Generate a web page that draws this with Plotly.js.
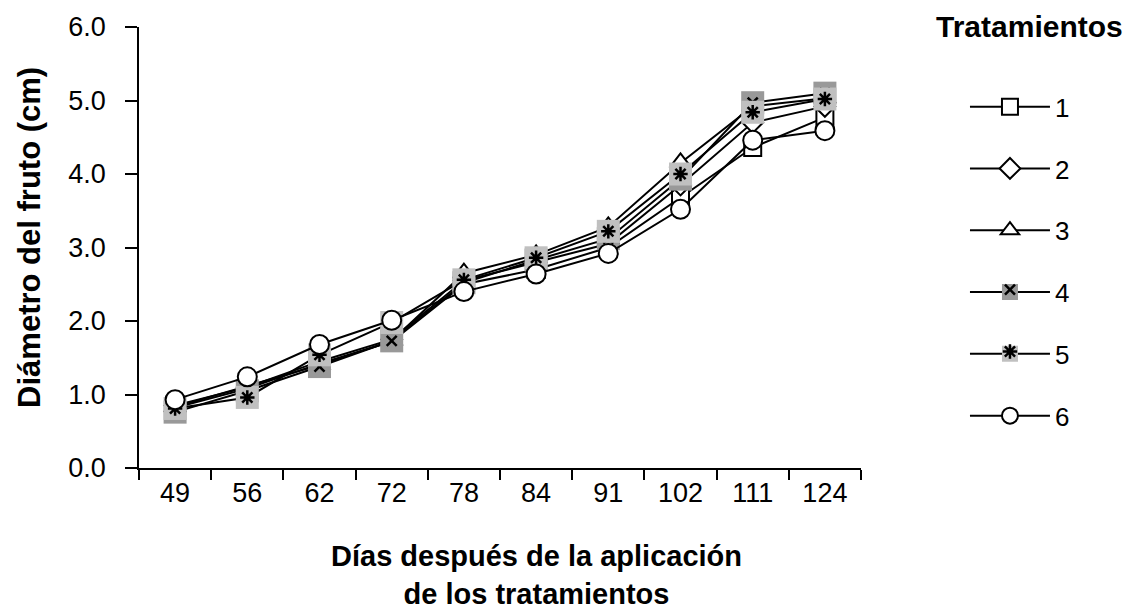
<!DOCTYPE html>
<html>
<head>
<meta charset="utf-8">
<script src="https://cdn.plot.ly/plotly-3.0.1.min.js"></script>
<style>
  html, body { margin: 0; padding: 0; background: #ffffff; }
  #chart { width: 1140px; height: 614px; }
</style>
</head>
<body>
<div id="chart"></div>
<script>
// Days after treatment application (category axis)
const days = ['49', '56', '62', '72', '78', '84', '91', '102', '111', '124'];

// Fruit diameter (cm) per treatment
const t1 = [0.82, 1.08, 1.42, 1.72, 2.50, 2.70, 3.00, 3.68, 4.36, 4.77];
const t2 = [0.85, 1.10, 1.45, 1.75, 2.55, 2.80, 3.05, 3.85, 4.70, 4.92];
const t3 = [0.83, 1.12, 1.40, 1.73, 2.65, 2.90, 3.28, 4.15, 4.92, 5.03];
const t4 = [0.76, 1.05, 1.38, 1.73, 2.52, 2.83, 3.12, 3.93, 4.97, 5.10];
const t5 = [0.81, 0.96, 1.54, 1.98, 2.56, 2.86, 3.22, 4.00, 4.84, 5.02];
const t6 = [0.93, 1.24, 1.68, 2.01, 2.40, 2.64, 2.92, 3.52, 4.46, 4.59];

const seriesNames = ['1', '2', '3', '4', '5', '6'];
const yTicks = [0, 1, 2, 3, 4, 5, 6];

const xTitle = 'Días después de la aplicación<br>de los tratamientos';
const yTitle = 'Diámetro del fruto (cm)';
const legendTitle = 'Tratamientos';

const FONT = '"Liberation Sans", Arial, Helvetica, sans-serif';

function base(name, y, symbol, size, fill, lineW) {
  return {
    type: 'scatter', mode: 'lines+markers', name: name, x: days, y: y,
    legend: 'legend', legendgroup: 'g' + name,
    line: { color: '#000000', width: 2 },
    marker: { symbol: symbol, size: size, color: fill,
              line: { color: '#000000', width: lineW } },
    hoverinfo: 'x+y+name'
  };
}
function overlay(name, y, symbol, size) {
  return {
    type: 'scatter', mode: 'markers', name: ' ', x: days, y: y,
    legend: 'legend2', legendgroup: 'g' + name,
    marker: { symbol: symbol, size: size, color: '#000000',
              line: { color: '#000000', width: 2.5 } },
    hoverinfo: 'skip'
  };
}

const data = [
  base(seriesNames[0], t1, 'square', 17, '#ffffff', 2),
  base(seriesNames[1], t2, 'diamond', 16, '#ffffff', 2),
  base(seriesNames[2], t3, 'triangle-up', 19, '#ffffff', 2),
  base(seriesNames[3], t4, 'square', 23, '#999999', 0),
  overlay(seriesNames[3], t4, 'x-thin-open', 10),
  base(seriesNames[4], t5, 'square', 23, '#c0c0c0', 0),
  overlay(seriesNames[4], t5, 'asterisk-open', 12),
  base(seriesNames[5], t6, 'circle', 19, '#ffffff', 2)
];

const legendCommon = {
  xref: 'paper', yref: 'paper', xanchor: 'left', yanchor: 'top',
  x: 1.144, itemwidth: 80, tracegroupgap: 25, traceorder: 'grouped',
  bgcolor: 'rgba(0,0,0,0)', borderwidth: 0,
  itemclick: false, itemdoubleclick: false
};

const layout = {
  width: 1140, height: 614,
  paper_bgcolor: '#ffffff', plot_bgcolor: '#ffffff',
  font: { family: FONT, color: '#000000', size: 26 },
  margin: { l: 139, r: 279, t: 27, b: 146, autoexpand: false },
  showlegend: true,
  legend: Object.assign({}, legendCommon, {
    y: 0.8725, font: { family: FONT, size: 26, color: '#000000' }
  }),
  legend2: Object.assign({}, legendCommon, {
    y: 0.4575, font: { family: FONT, size: 26, color: 'rgba(0,0,0,0)' }
  }),
  xaxis: {
    type: 'category', categoryorder: 'array', categoryarray: days,
    range: [-0.5, days.length - 0.5],
    showline: true, linecolor: '#000000', linewidth: 1.5,
    ticks: 'outside', tickson: 'boundaries', ticklen: 10, tickwidth: 1.5, tickcolor: '#000000',
    tickfont: { family: FONT, size: 27, color: '#000000' },
    showgrid: false, zeroline: false, fixedrange: true
  },
  yaxis: {
    range: [0, 6], tickvals: yTicks, tickformat: '.1f',
    showline: true, linecolor: '#000000', linewidth: 1.5,
    ticks: 'outside', ticklen: 12, tickwidth: 1.5, tickcolor: '#000000',
    ticklabelstandoff: 14,
    tickfont: { family: FONT, size: 27, color: '#000000' },
    showgrid: false, zeroline: false, fixedrange: true
  },
  annotations: [
    {
      text: xTitle, xref: 'paper', yref: 'paper',
      x: 0.55, y: -0.158, xanchor: 'center', yanchor: 'top', showarrow: false,
      font: { family: FONT, size: 29, color: '#000000', weight: 'bold' }
    },
    {
      text: yTitle, xref: 'paper', yref: 'paper', textangle: -90,
      x: -0.151, y: 0.524, xanchor: 'center', yanchor: 'middle', showarrow: false,
      font: { family: FONT, size: 31, color: '#000000', weight: 'bold' }
    },
    {
      text: legendTitle, xref: 'paper', yref: 'paper',
      x: 1.2327, y: 1.043, xanchor: 'center', yanchor: 'top', showarrow: false,
      font: { family: FONT, size: 30, color: '#000000', weight: 'bold' }
    }
  ]
};

Plotly.newPlot('chart', data, layout, { displayModeBar: false });
</script>
</body>
</html>
